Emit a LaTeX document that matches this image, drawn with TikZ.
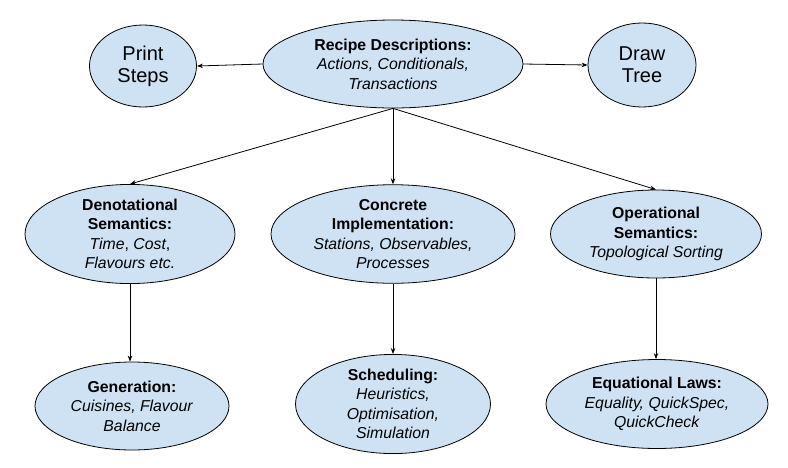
\documentclass[tikz,border=0pt]{standalone}
\usepackage{fontspec}
\setmainfont{Liberation Sans}
\usetikzlibrary{shapes.geometric,arrows.meta}
\definecolor{nodefill}{HTML}{CFE2F3}
\tikzset{
  elli/.style={ellipse, draw=black, line width=0.8pt, fill=nodefill, inner sep=0pt,
    align=center, font=\fontsize{15.8}{19.5}\selectfont},
  big/.style={font=\fontsize{20}{22}\selectfont},
  conn/.style={-{Stealth[length=6pt,width=4.5pt]}, line width=0.8pt}
}
\begin{document}
\begin{tikzpicture}[x=1pt,y=-1pt]
\useasboundingbox (0,0) rectangle (788,467);
\node[elli, minimum width=260, minimum height=88] (rec) at (393,64)
  {\textbf{Recipe Descriptions:}\\\textit{Actions, Conditionals,}\\\textit{Transactions}};
\node[elli, big, minimum width=107, minimum height=82] (print) at (143,66) {Print\\Steps};
\node[elli, big, minimum width=108, minimum height=84] (tree) at (642,65) {Draw\\Tree};
\node[elli, minimum width=210, minimum height=88] (den) at (130,234)
  {\textbf{Denotational}\\\textbf{Semantics:}\\\textit{Time}, \textit{Cost},\\\textit{Flavours etc.}};
\node[elli, minimum width=244, minimum height=88] (con) at (393,234)
  {\textbf{Concrete}\\\textbf{Implementation:}\\\textit{Stations, Observables,}\\\textit{Processes}};
\node[elli, minimum width=211, minimum height=88] (op) at (656,234)
  {\textbf{Operational}\\\textbf{Semantics:}\\\textit{Topological Sorting}};
\node[elli, minimum width=194, minimum height=88] (gen) at (132,406)
  {\textbf{Generation:}\\\textit{Cuisines, Flavour}\\\textit{Balance}};
\node[elli, minimum width=195, minimum height=97] (sch) at (393,404)
  {\textbf{Scheduling:}\\\textit{Heuristics,}\\\textit{Optimisation,}\\\textit{Simulation}};
\node[elli, minimum width=222, minimum height=89] (eq) at (657,404)
  {\textbf{Equational Laws:}\\\textit{Equality, QuickSpec,}\\\textit{QuickCheck}};
\draw[conn] (rec.west) -- (print.east);
\draw[conn] (rec.east) -- (tree.west);
\draw[conn] (rec.south) -- (den.north);
\draw[conn] (rec.south) -- (con.north);
\draw[conn] (rec.south) -- (op.north);
\draw[conn] (den.south) -- (gen.north -| den.south);
\draw[conn] (con.south) -- (sch.north);
\draw[conn] (op.south) -- (eq.north -| op.south);
\end{tikzpicture}
\end{document}
